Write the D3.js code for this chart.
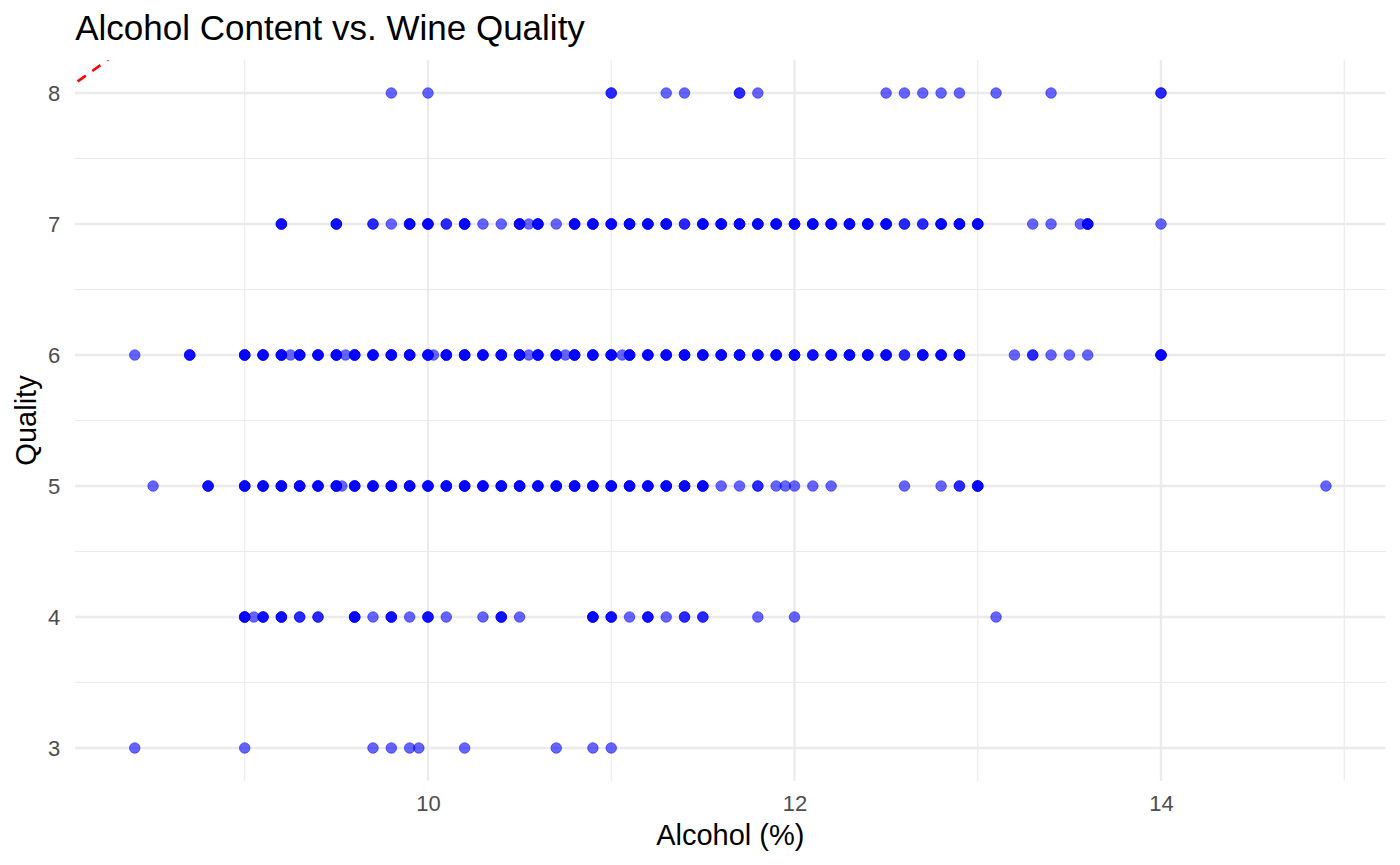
<!DOCTYPE html>
<html>
<head>
<meta charset="utf-8">
<script src="https://cdn.jsdelivr.net/npm/d3@7"></script>
<style>
  html, body { margin: 0; padding: 0; background: #ffffff; }
  svg { display: block; }
  text { font-family: "Liberation Sans", Arial, sans-serif; }
</style>
</head>
<body>
<svg id="chart" width="1400" height="865"></svg>
<script>
// ---- Data: [alcohol %, number of wines plotted at that spot] per quality level ----
const quality3 = [[8.4,1],[9.0,1],[9.7,1],[9.8,1],[9.9,1],[9.95,1],[10.2,1],[10.7,1],[10.9,1],[11.0,1]];
const quality4 = [[9.0,4],[9.05,1],[9.1,3],[9.2,3],[9.3,2],[9.4,2],[9.6,4],[9.7,1],[9.8,3],[9.9,1],
  [10.0,3],[10.1,1],[10.3,1],[10.4,3],[10.5,1],[10.9,4],[11.0,3],[11.1,1],[11.2,3],[11.3,1],
  [11.4,2],[11.5,2],[11.8,1],[12.0,1],[13.1,1]];
const quality5 = [[8.5,1],[8.8,3],[9.0,4],[9.1,4],[9.2,4],[9.3,4],[9.4,4],[9.5,4],[9.53,1],[9.6,4],
  [9.7,4],[9.8,4],[9.9,4],[10.0,4],[10.1,4],[10.2,4],[10.3,4],[10.4,4],[10.5,4],[10.6,4],
  [10.7,4],[10.8,4],[10.9,4],[11.0,4],[11.1,4],[11.2,4],[11.3,4],[11.4,4],[11.5,4],[11.6,1],
  [11.7,1],[11.8,2],[11.9,1],[11.95,1],[12.0,1],[12.1,1],[12.2,1],[12.6,1],[12.8,1],[12.9,2],
  [13.0,4],[14.9,1]];
const quality6 = [[8.4,1],[8.7,3],[9.0,4],[9.1,4],[9.2,4],[9.25,1],[9.3,4],[9.4,4],[9.5,4],[9.55,1],
  [9.6,4],[9.7,4],[9.8,4],[9.9,4],[10.0,4],[10.03,1],[10.1,4],[10.2,4],[10.3,4],[10.4,4],
  [10.5,4],[10.55,1],[10.6,4],[10.7,4],[10.75,1],[10.8,4],[10.9,4],[11.0,4],[11.06,1],[11.1,4],
  [11.2,4],[11.3,4],[11.4,4],[11.5,4],[11.6,4],[11.7,4],[11.8,4],[11.9,4],[12.0,4],[12.1,3],
  [12.2,4],[12.3,4],[12.4,4],[12.5,4],[12.6,2],[12.7,4],[12.8,4],[12.9,4],[13.2,1],[13.3,2],
  [13.4,1],[13.5,1],[13.6,1],[14.0,4]];
const quality7 = [[9.2,3],[9.5,3],[9.7,2],[9.8,1],[9.9,4],[10.0,4],[10.1,2],[10.2,4],[10.3,1],[10.4,1],
  [10.5,4],[10.55,1],[10.6,4],[10.7,1],[10.8,4],[10.9,4],[11.0,4],[11.1,4],[11.2,4],[11.3,4],
  [11.4,2],[11.5,4],[11.6,4],[11.7,4],[11.8,4],[11.9,4],[12.0,4],[12.1,4],[12.2,4],[12.3,4],
  [12.4,4],[12.5,4],[12.6,2],[12.7,2],[12.8,4],[12.9,4],[13.0,4],[13.3,1],[13.4,1],[13.56,1],
  [13.6,4],[14.0,1]];
const quality8 = [[9.8,1],[10.0,1],[11.0,2],[11.3,1],[11.4,1],[11.7,2],[11.8,1],[12.5,1],[12.6,1],
  [12.7,1],[12.8,1],[12.9,1],[13.1,1],[13.4,1],[14.0,2]];

const qualityLevels = [3, 4, 5, 6, 7, 8];
const seriesByQuality = [quality3, quality4, quality5, quality6, quality7, quality8];
const xMajorTicks = [10, 12, 14];
const xMinorTicks = [9, 11, 13, 15];
const yMajorTicks = [3, 4, 5, 6, 7, 8];
const yMinorTicks = [3.5, 4.5, 5.5, 6.5, 7.5];
const refLine = { slope: 1, intercept: 0 };

// ---- Build point list ----
const points = [];
seriesByQuality.forEach((series, i) => {
  series.forEach(([alc, n]) => {
    for (let k = 0; k < n; k++) points.push({ alcohol: alc, quality: qualityLevels[i] });
  });
});

// ---- Layout ----
const svg = d3.select("#chart");
const panel = { left: 75.2, right: 1385.5, top: 60.25, bottom: 780.75 };

const allX = points.map(d => d.alcohol);
const xMin = d3.min(allX), xMax = d3.max(allX);
const xPad = (xMax - xMin) * 0.05;
const x = d3.scaleLinear().domain([xMin - xPad, xMax + xPad]).range([panel.left, panel.right]);
const yPad = (8 - 3) * 0.05;
const y = d3.scaleLinear().domain([3 - yPad, 8 + yPad]).range([panel.bottom, panel.top]);

svg.append("rect").attr("width", 1400).attr("height", 865).attr("fill", "#ffffff");

const grid = svg.append("g");
grid.selectAll(".xminor").data(xMinorTicks).join("line")
  .attr("x1", d => x(d)).attr("x2", d => x(d))
  .attr("y1", panel.top).attr("y2", panel.bottom)
  .attr("stroke", "#EBEBEB").attr("stroke-width", 1.2);
grid.selectAll(".yminor").data(yMinorTicks).join("line")
  .attr("y1", d => y(d)).attr("y2", d => y(d))
  .attr("x1", panel.left).attr("x2", panel.right)
  .attr("stroke", "#EBEBEB").attr("stroke-width", 1.2);
grid.selectAll(".xmajor").data(xMajorTicks).join("line")
  .attr("x1", d => x(d)).attr("x2", d => x(d))
  .attr("y1", panel.top).attr("y2", panel.bottom)
  .attr("stroke", "#EBEBEB").attr("stroke-width", 2.4);
grid.selectAll(".ymajor").data(yMajorTicks).join("line")
  .attr("y1", d => y(d)).attr("y2", d => y(d))
  .attr("x1", panel.left).attr("x2", panel.right)
  .attr("stroke", "#EBEBEB").attr("stroke-width", 2.4);

// ---- Points ----
svg.append("g").selectAll("circle").data(points).join("circle")
  .attr("cx", d => x(d.alcohol))
  .attr("cy", d => y(d.quality))
  .attr("r", 5.3)
  .attr("fill", "#0000FF")
  .attr("fill-opacity", 0.6)
  .attr("stroke", "#0000FF")
  .attr("stroke-opacity", 0.6)
  .attr("stroke-width", 0.8);

// ---- Reference line y = x (clipped to the panel) ----
svg.append("clipPath").attr("id", "panelClip").append("rect")
  .attr("x", panel.left).attr("y", panel.top)
  .attr("width", panel.right - panel.left).attr("height", panel.bottom - panel.top);
const [dx0, dx1] = x.domain();
svg.append("line")
  .attr("clip-path", "url(#panelClip)")
  .attr("x1", x(dx0)).attr("y1", y(refLine.intercept + refLine.slope * dx0))
  .attr("x2", x(dx1)).attr("y2", y(refLine.intercept + refLine.slope * dx1))
  .attr("stroke", "#FF0000").attr("stroke-width", 2.6)
  .attr("stroke-dasharray", "10,8")
  .attr("stroke-dashoffset", -3);

// ---- Axes (text only, as in theme_minimal) ----
const xAxis = d3.axisBottom(x).tickValues(xMajorTicks).tickSize(0).tickPadding(0).tickFormat(d3.format("d"));
const gx = svg.append("g").attr("transform", `translate(0,${panel.bottom})`).call(xAxis);
gx.select(".domain").remove();
gx.selectAll("text").attr("font-size", 22).attr("fill", "#4D4D4D")
  .attr("font-family", "Liberation Sans, Arial, sans-serif")
  .attr("dy", null).attr("y", 30);

const yAxis = d3.axisLeft(y).tickValues(yMajorTicks).tickSize(0).tickPadding(0).tickFormat(d3.format("d"));
const gy = svg.append("g").attr("transform", `translate(${panel.left},0)`).call(yAxis);
gy.select(".domain").remove();
gy.selectAll("text").attr("font-size", 22).attr("fill", "#4D4D4D")
  .attr("font-family", "Liberation Sans, Arial, sans-serif")
  .attr("x", -15).attr("dy", "0.36em");

// ---- Titles ----
svg.append("text").attr("x", panel.left).attr("y", 40)
  .attr("font-size", 35).attr("fill", "#000000")
  .text("Alcohol Content vs. Wine Quality");
svg.append("text").attr("x", (panel.left + panel.right) / 2).attr("y", 845)
  .attr("text-anchor", "middle").attr("font-size", 29).attr("fill", "#000000")
  .text("Alcohol (%)");
svg.append("text")
  .attr("transform", `translate(36,${(panel.top + panel.bottom) / 2}) rotate(-90)`)
  .attr("text-anchor", "middle").attr("font-size", 29).attr("fill", "#000000")
  .text("Quality");
</script>
</body>
</html>
